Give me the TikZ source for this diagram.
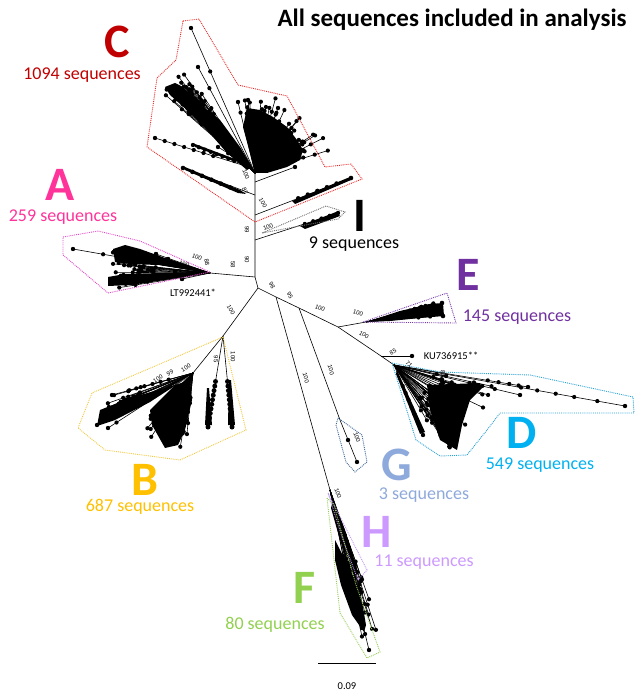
\documentclass[tikz,border=0pt]{standalone}
\usepackage{fontspec}
\setmainfont{Carlito}
\newfontfamily\bsfont{Liberation Sans}
\definecolor{cC}{RGB}{192,0,0}
\definecolor{cA}{RGB}{255,51,153}
\definecolor{cB}{RGB}{255,192,0}
\definecolor{cD}{RGB}{0,176,240}
\definecolor{cE}{RGB}{112,48,160}
\definecolor{cF}{RGB}{146,208,80}
\definecolor{cG}{RGB}{142,169,219}
\definecolor{cH}{RGB}{204,153,255}
\definecolor{hC}{RGB}{235,40,40}
\definecolor{hA}{RGB}{225,70,200}
\definecolor{hB}{RGB}{240,200,60}
\definecolor{hD}{RGB}{40,160,210}
\definecolor{hE}{RGB}{120,60,170}
\definecolor{hF}{RGB}{150,205,90}
\definecolor{hG}{RGB}{60,100,150}
\definecolor{hH}{RGB}{190,150,240}
\definecolor{hI}{RGB}{110,110,110}
\newcommand\rfan[8]{%
  \foreach \k in {1,...,#7}{%
    \pgfmathsetmacro\rfang{#3+rnd*(#4-#3)}%
    \pgfmathsetmacro\rflen{#5+rnd*(#6-#5)}%
    \draw[br] (#1,#2) -- ++(\rfang:\rflen);%
    \fill (#1,#2) ++(\rfang:\rflen) circle (#8);%
    \fill (#1,#2) ++(\rfang:0.82*\rflen) circle (#8);%
  }}
\newcommand\bline[5]{%
  \draw[br] (#1,#2) -- (#3,#4);%
  \fill (#3,#4) circle (2.2);%
  \foreach \t in {#5}{\fill ({#1+\t*(#3-#1)},{#2+\t*(#4-#2)}) circle (2.1);}%
}
\begin{document}
\begin{tikzpicture}[x=1pt,y=-1pt,
  br/.style={line width=0.6pt},
  hull/.style={line width=0.9pt, densely dotted},
  boot/.style={font=\bsfont\fontsize{6}{7}\selectfont, inner sep=0},
  big/.style={font=\fontsize{48}{50}\selectfont\bfseries, inner sep=0},
  cnt/.style={font=\fontsize{18}{20}\selectfont, inner sep=0},
  acc/.style={font=\fontsize{10.5}{12}\selectfont, inner sep=0}]
\useasboundingbox (0,0) rectangle (635,692);
\pgfmathsetseed{11}
% backbone nodes
\coordinate (cR) at (255,173);
\coordinate (b1) at (255,182);
\coordinate (b87) at (255,195);
\coordinate (bC2) at (255,215);
\coordinate (bI) at (255,240);
\coordinate (bA) at (255,277);
\coordinate (jn) at (258,288);
\coordinate (aR) at (210,273);
\coordinate (bR) at (223,336);
\coordinate (bM) at (193,373);
\coordinate (s1) at (276,297);
\coordinate (s2) at (299,308);
\coordinate (eS) at (338,327);
\coordinate (eR) at (366,322);
\coordinate (kN) at (381,356);
\coordinate (kT) at (412,356);
\coordinate (dR) at (394,365);
\coordinate (fR) at (330,490);
\coordinate (gR) at (340,420);
\coordinate (gT) at (357,462);
\coordinate (cT) at (295,167);
\draw[br] (cR) -- (bA) -- (jn) -- (s1) -- (s2) -- (eS) -- (kN) -- (dR);
\draw[br] (bA) -- (aR);
\draw[br] (jn) -- (bR) -- (bM);
\draw[br] (eS) -- (eR);
\draw[br] (kN) -- (kT); \fill (kT) circle (2.2);
\draw[br] (s1) -- (fR);
\draw[br] (s2) -- (gR) -- (gT); \fill (gT) circle (2.2); \fill (348,440) circle (2.2);
\draw[br] (b1) -- (cT); \fill (cT) circle (2.2);

% ---------- C ----------
\fill (165,87)--(175,83)--(183,87)--(207,110)--(220,120)--(240,147)--(252,167)--(247,170)--(227,153)--(207,130)--(187,110)--(170,95)--cycle;
\fill (243,127)--(247,108)--(260,110)--(273,117)--(287,127)--(297,140)--(303,150)--(300,160)--(287,167)--(267,173)--(255,173)--(250,153)--cycle;
\rfan{255}{173}{221}{237}{85}{125}{40}{2.1}
\rfan{255}{173}{262}{345}{40}{78}{45}{2.1}
\bline{255}{173}{191}{28}{0.7}
\bline{255}{173}{198}{67}{0.8}
\bline{255}{173}{238}{102}{0.85}
\bline{255}{173}{248}{100}{0.85}
\bline{255}{173}{278}{108}{0.9}
\bline{252}{168}{155}{138}{0.4,0.5,0.6,0.7,0.8,0.9}
\bline{252}{168}{193}{145}{0.3,0.4,0.5,0.6,0.7,0.8,0.9}
\bline{252}{168}{218}{147}{0.5,0.7}
\fill (195,144)--(235,159)--(236,162)--(195,147)--cycle;
\draw[br] (b87) -- (183,168);
\fill (185,167)--(240,190)--(246,194)--(238,193)--(185,170)--cycle;
\foreach \t in {0,0.15,0.3,0.45,0.6,0.75} {\fill ({183+\t*63},{168+\t*26}) circle (2.3);}
\draw[br] (bC2) -- (351,178); \fill (351,178) circle (2.3);
\fill (292,201)--(350,177)--(351,180)--(295,204)--cycle;
\foreach \t in {0.45,0.55,0.65,0.75,0.85} {\fill ({255+\t*96},{215-\t*37}) circle (2.3);}
\draw[hull,hC] (183,21)--(199,19)--(238,85)--(287,96)--(325,167)--(351,164)--(362,179)--(255,222)--(147,147)--(157,78)--(176,60)--cycle;

% ---------- I ----------
\draw[br] (bI) -- (338,213); \fill (338,213) circle (2.2);
\fill (300,226)--(336,212)--(340,216)--(305,229)--cycle;
\foreach \t in {0.6,0.7,0.8,0.9} {\fill ({255+\t*83},{240-\t*27}) circle (2);}
\draw[hull,hI] (262,233)--(326,206)--(345,212)--(338,219)--cycle;

% ---------- A ----------
\fill (113,249)--(125,245)--(140,249)--(165,258)--(205,271)--(160,265)--(130,264)--(115,262)--cycle;
\fill (108,277)--(125,274)--(160,273)--(205,273)--(165,280)--(130,285)--(108,286)--cycle;
\rfan{210}{273}{170}{197}{65}{100}{30}{2.1}
\bline{210}{273}{73}{249}{0.78}
\bline{210}{273}{156}{254}{1}
\bline{210}{273}{168}{259}{1}
\bline{210}{273}{175}{272}{1}
\bline{210}{273}{182}{279}{1}
\draw[hull,hA] (63,237)--(98,231)--(140,241)--(210,272)--(108,293)--(63,255)--cycle;

% ---------- B ----------
\draw[br] (bR) -- (232,427);
\draw[br] (bR) -- (208,427);
\foreach \t in {0.5,0.55,...,1.01} {\fill ({223+\t*9},{336+\t*91}) circle (2.5); \fill ({223-\t*15},{336+\t*91}) circle (2.5);}
\fill (229,380)--(231,380)--(235,425)--(228,425)--cycle;
\fill (207,388)--(209,388)--(212,425)--(205,425)--cycle;
\fill (100,410)--(130,398)--(175,385)--(190,376)--(150,402)--(115,420)--(97,426)--cycle;
\fill (150,410)--(175,385)--(190,380)--(192,400)--(185,430)--(178,445)--(165,448)--(152,425)--cycle;
\rfan{193}{373}{95}{138}{30}{80}{30}{2.1}
\rfan{193}{373}{150}{165}{60}{100}{18}{2.1}
\bline{193}{373}{112}{395}{0.3,0.4,0.5,0.6,0.7}
\bline{193}{373}{97}{425}{0.8}
\bline{193}{373}{108}{428}{0.9}
\draw[hull,hB] (223,337)--(246,430)--(180,460)--(105,450)--(78,428)--(92,393)--cycle;

% ---------- E ----------
\fill (366,322)--(400,311)--(430,304)--(443,303)--(444,316)--(420,318)--(390,321)--cycle;
\rfan{366}{322}{-16}{-4}{55}{78}{12}{2}
\fill (442,303) circle (2.3); \fill (443,316) circle (2.3);
\draw[hull,hE] (363,322)--(447,293)--(456,323)--cycle;

% ---------- D ----------
\bline{394}{365}{625}{406}{0.55,0.62,0.7,0.78,0.88}
\bline{394}{365}{528}{387}{0.7,0.78,0.86,0.93}
\bline{394}{365}{520}{395}{0.6,0.7,0.8}
\bline{394}{365}{420}{398}{1}
\bline{394}{365}{423}{435}{0.3,0.4,0.5,0.6,0.7,0.8,0.9}
\fill (397,370)--(425,432)--(420,434)--(396,374)--cycle;
\fill (427,385)--(480,383)--(482,388)--(470,400)--(462,425)--(457,450)--(440,440)--(430,410)--cycle;
\rfan{394}{365}{12}{60}{50}{100}{40}{2.1}
\draw[hull,hD] (392,363)--(440,372)--(530,375)--(633,397)--(634,413)--(500,413)--(487,430)--(467,455)--(440,456)--(416,440)--cycle;

% ---------- G ----------
\draw[hull,hG] (338,418)--(362,435)--(367,462)--(355,472)--(346,462)--(336,425)--cycle;

% ---------- F / H ----------
\bline{330}{490}{357}{572}{0.55,0.62,0.7,0.8,0.9}
\bline{330}{490}{369}{650}{0.5,0.6,0.7,0.8,0.9}
\bline{330}{490}{362}{628}{0.5,0.6,0.7,0.8,0.9}
\bline{330}{490}{352}{600}{0.6,0.8}
\fill (333,500)--(345,530)--(356,565)--(358,573)--(353,568)--(340,540)--(331,508)--cycle;
\fill (335,540)--(345,560)--(360,590)--(366,625)--(364,632)--(352,615)--(341,585)--(335,560)--cycle;
\rfan{330}{490}{70}{79}{90}{150}{20}{2.1}
\draw[hull,hH] (328,493)--(367,570)--(358,580)--(343,540)--cycle;
\draw[hull,hF] (327,498)--(334,505)--(356,585)--(380,652)--(367,658)--(340,613)--cycle;

% ---------- bootstrap values ----------
\node[boot,rotate=-90] (bs1) at (247,230) {99};
\node[boot,rotate=-90] (bs2) at (247,260) {90};
\node[boot,rotate=20] (bs3) at (268,227) {100};
\node[boot,rotate=-60] (bs4) at (263,203) {100};
\node[boot,rotate=-70] (bs5) at (245,191) {87};
\node[boot,rotate=-70] (bs6) at (246,174) {100};
\node[boot,rotate=-90] (bs7) at (233,265) {58};
\node[boot,rotate=-80] (bs8) at (207,262) {88};
\node[boot,rotate=-20] (bs9) at (197,257) {100};
\node[boot,rotate=-20] (bs10) at (184,264) {100};
\node[boot,rotate=-60] (bs11) at (231,310) {100};
\node[boot,rotate=-90] (bs12) at (216,359) {95};
\node[boot,rotate=-90] (bs13) at (233,357) {100};
\node[boot,rotate=30] (bs14) at (186,368) {100};
\node[boot,rotate=30] (bs15) at (170,373) {99};
\node[boot,rotate=30] (bs16) at (158,379) {100};
\node[boot,rotate=-60] (bs17) at (272,285) {98};
\node[boot,rotate=-60] (bs18) at (290,295) {95};
\node[boot,rotate=-20] (bs19) at (320,308) {100};
\node[boot,rotate=-15] (bs20) at (358,313) {100};
\node[boot,rotate=-30] (bs21) at (364,335) {100};
\node[boot,rotate=30] (bs22) at (393,352) {85};
\node[boot,rotate=-45] (bs23) at (409,364) {71};
\node[boot,rotate=-90] (bs24) at (443,374) {88};
\node[boot,rotate=-75] (bs25) at (306,378) {100};
\node[boot,rotate=-75] (bs26) at (331,370) {100};
\node[boot,rotate=-70] (bs27) at (357,437) {100};
\node[boot,rotate=-70] (bs28) at (338,493) {100};

% ---------- labels ----------
\node[font=\fontsize{25}{30}\selectfont\bfseries, inner sep=0] (title) at (452,20) {All sequences included in analysis};
\node[big,cC] (LC) at (117,42) {C};
\node[cnt,cC] (nC) at (82,75) {1094 sequences};
\node[big,cA] (LA) at (60,185) {A};
\node[cnt,cA] (nA) at (63,217) {259 sequences};
\node[big] (LI) at (360,216) {I};
\node[cnt] (nI) at (354,244) {9 sequences};
\node[big,cE] (LE) at (468,275) {E};
\node[cnt,cE] (nE) at (517,317) {145 sequences};
\node[big,cD] (LD) at (522,433) {D};
\node[cnt,cD] (nD) at (540,465) {549 sequences};
\node[big,cG] (LG) at (397,465) {G};
\node[cnt,cG] (nG) at (424,495) {3 sequences};
\node[big,cH] (LH) at (377,532) {H};
\node[cnt,cH] (nH) at (424,562) {11 sequences};
\node[big,cF] (LF) at (305,588) {F};
\node[cnt,cF] (nF) at (275,625) {80 sequences};
\node[big,cB] (LB) at (145,480) {B};
\node[cnt,cB] (nB) at (140,507) {687 sequences};
\node[acc] (lt) at (193,293) {LT992441*};
\node[acc] (ku) at (451,356) {KU736915**};
% scale bar
\coordinate (sb1) at (318,663);
\coordinate (sb2) at (376,663);
\draw[line width=0.8pt] (sb1) -- (sb2);
\node[acc] (sbl) at (347,686) {0.09};
\end{tikzpicture}
\end{document}
